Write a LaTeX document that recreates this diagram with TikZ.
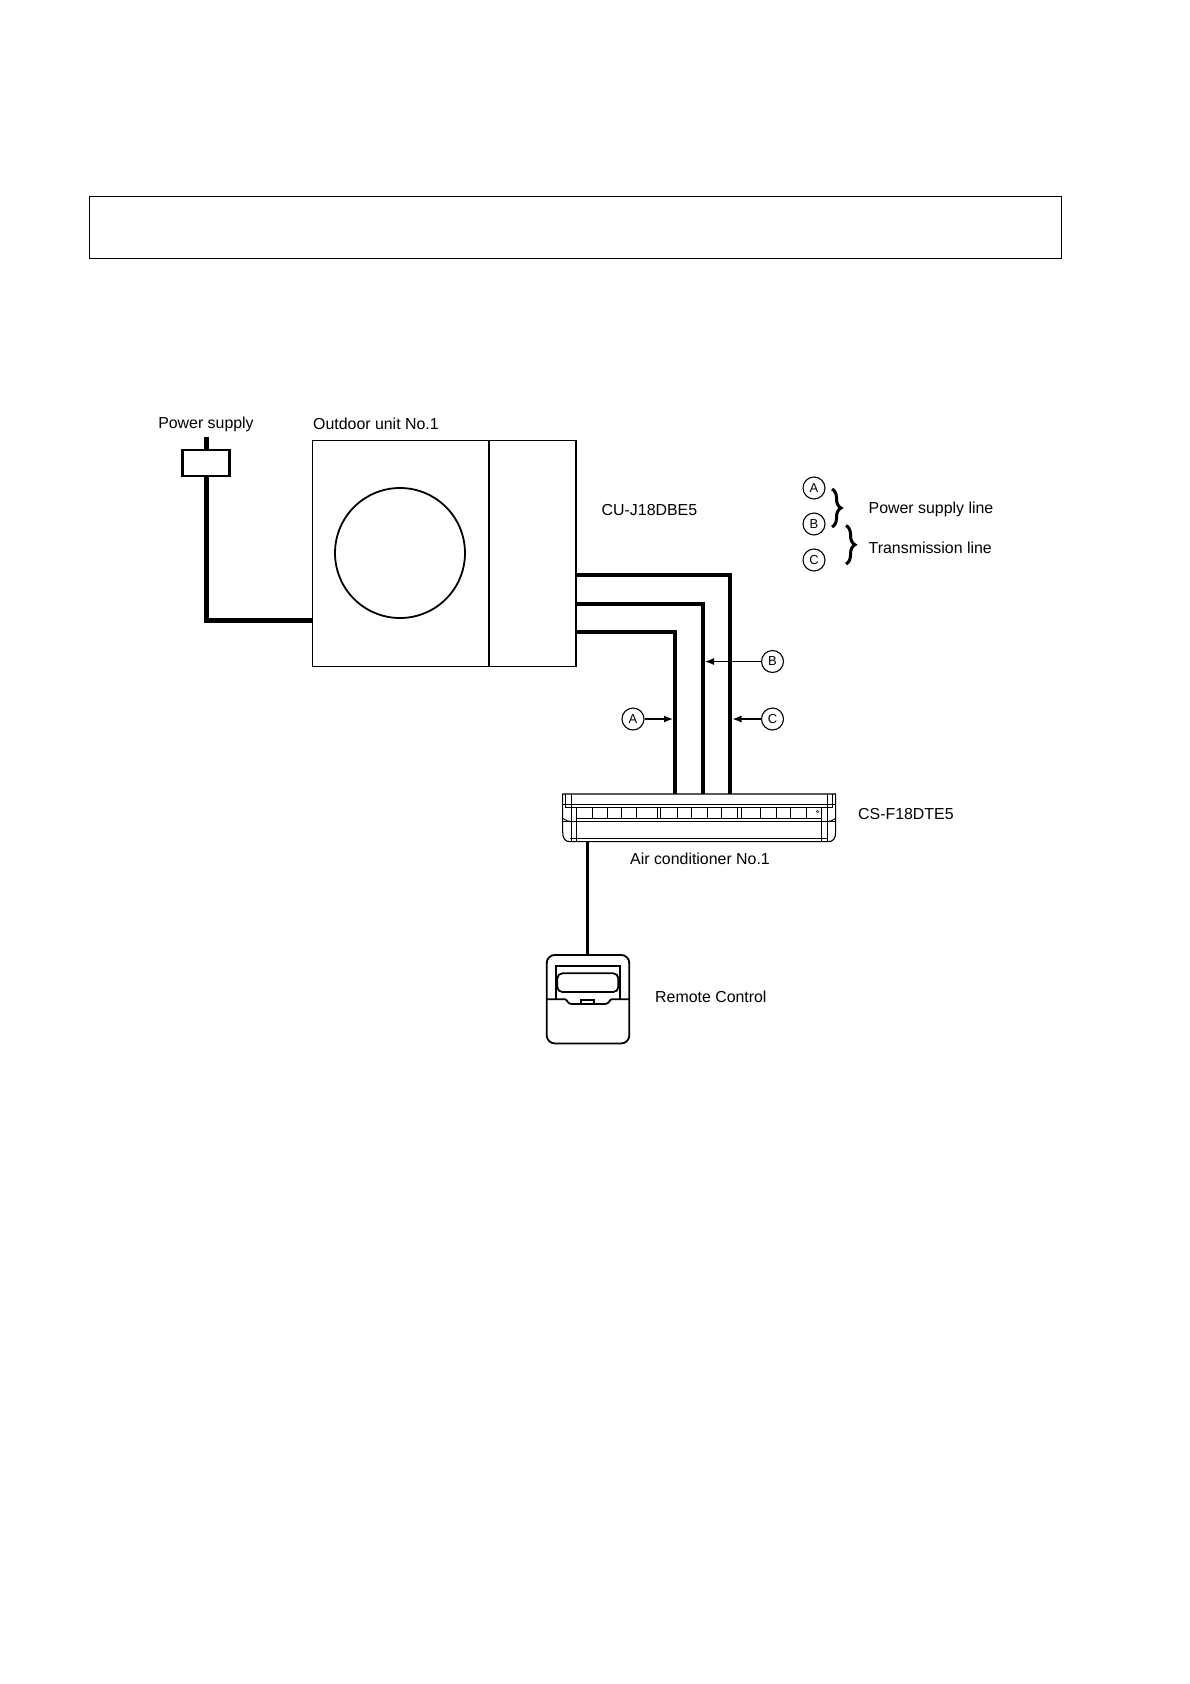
\documentclass[tikz,border=0pt]{standalone}
\usepackage{fontspec}
\setmainfont{Liberation Sans}
\usetikzlibrary{arrows.meta,decorations.pathreplacing}
\tikzset{
  label text/.style={inner sep=0pt,font=\fontsize{15.9}{18}\selectfont,anchor=west},
  unit/.style={draw,line width=1.5pt,inner sep=0pt},
  heavy/.style={line width=3.8pt,line cap=butt,line join=miter},
  tag/.style={draw,circle,line width=1.1pt,minimum size=22pt,inner sep=0pt,fill=white,font=\fontsize{13}{15}\selectfont},
  lead/.style={line width=1.2pt,-{Latex[length=9pt,width=7pt]}},
  fine/.style={line width=.9pt},
  curly/.style={line width=3pt,decorate,decoration={brace,amplitude=9pt,aspect=.5}},
}
\begin{document}
\begin{tikzpicture}[x=1pt,y=-1pt]
\useasboundingbox (0,0) rectangle (1190,1684);
\fill[white] (0,0) rectangle (1190,1684);
% top empty frame
\node[draw,line width=.8pt,minimum width=972pt,minimum height=62pt,inner sep=0pt] (frame) at (575.5,227.5) {};

% outdoor unit
\node[unit,minimum width=263.5pt,minimum height=226pt] (outdoor) at (444.25,553.5) {};
\coordinate (divT) at (489,440.5);
\coordinate (divB) at (489,666.5);
\draw[line width=1.2pt] (divT) -- (divB);
\node[draw,circle,line width=1.8pt,minimum size=130pt,inner sep=0pt] (fan) at (400,553) {};

% plug and supply
\node[draw,line width=2.8pt,minimum width=47pt,minimum height=26pt,inner sep=0pt] (plug) at (206.2,463) {};
\coordinate (plugTop) at (206.2,437);
\coordinate (supplyEnd) at (312.5,620.5);
\draw[heavy,line width=4.6pt] (plugTop) -- (plug.north);
\draw[heavy,line width=4.6pt] (plug.south) |- (supplyEnd);

% piping
\coordinate (cOut) at (576,575);
\coordinate (bOut) at (576,604);
\coordinate (aOut) at (576,632);
\coordinate (aIn) at (675.3,794);
\coordinate (bIn) at (702.7,794);
\coordinate (cIn) at (730,794);
\draw[heavy] (cOut) -| (cIn);
\draw[heavy] (bOut) -| (bIn);
\draw[heavy] (aOut) -| (aIn);

% tags on the pipes
\node[tag] (tagB) at (772.5,661.5) {B};
\node[tag] (tagA) at (633,719) {A};
\node[tag] (tagC) at (772.5,719) {C};
\coordinate (ptB) at (705,661.5);
\coordinate (ptA) at (673,719);
\coordinate (ptC) at (732.5,719);
\draw[lead] (tagB) -- (ptB);
\draw[lead] (tagA) -- (ptA);
\draw[lead] (tagC) -- (ptC);

% legend
\node[tag] (legA) at (814,488) {A};
\node[tag] (legB) at (814,524) {B};
\node[tag] (legC) at (814,560) {C};
\coordinate (b1t) at (832,489);
\coordinate (b1b) at (832,527);
\coordinate (b2t) at (846,525.5);
\coordinate (b2b) at (846,564);
\draw[curly] (b1t) -- (b1b);
\draw[curly] (b2t) -- (b2b);
\node[label text] (t1) at (868.5,509.5) {Power supply line};
\node[label text] (t2) at (868.5,548) {Transmission line};

% labels
\node[label text,anchor=center] (t3) at (206,424) {Power supply};
\node[label text] (t4) at (313,423.5) {Outdoor unit No.1};
\node[label text] (t5) at (601.5,510) {CU-J18DBE5};
\node[label text] (t6) at (858,814.5) {CS-F18DTE5};
\node[label text] (t7) at (630,859) {Air conditioner No.1};
\node[label text] (t8) at (655,997) {Remote Control};

% air conditioner (indoor unit)
\begin{scope}[shift={(540,770)},x=.33333pt,y=-.33333pt]
\draw[fine,line width=1.1pt] (68,72) -- (887,72) -- (887,185) .. controls (887,205) and (880,215) .. (865,215) -- (90,215) .. controls (75,215) and (68,205) .. (68,185) -- cycle;
\draw[fine] (68,103) -- (887,103);
\draw[fine] (77,113) -- (878,113);
\draw[fine] (108,145) -- (845,145);
\draw[fine,line width=1.1pt] (68,155) -- (887,155);
\draw[fine] (90,205) -- (865,205);
\draw[fine] (77,72) -- (77,113);
\draw[fine] (93,72) -- (93,215);
\draw[fine] (108,113) -- (108,215);
\draw[fine] (878,72) -- (878,113);
\draw[fine] (862,72) -- (862,215);
\draw[fine] (845,113) -- (845,215);
\draw[fine] (68,145) .. controls (75,150) and (85,155) .. (93,155);
\draw[fine] (887,145) .. controls (880,150) and (870,155) .. (862,155);
\foreach \tx in {157,203,245,290,352,360,412,455,502,545,593,603,662,710,752,798}
  \draw[fine] (\tx,113) -- (\tx,145);
\draw[line width=.4pt] (833,125) circle[radius=4];
\end{scope}
\coordinate (acB) at (587.3,842);

% remote control
\node[draw,line width=1.8pt,rounded corners=8pt,minimum width=82.5pt,minimum height=88.5pt,inner sep=0pt] (remote) at (588,999.2) {};
\draw[line width=2.4pt] (acB) -- (remote.north -| acB);
\begin{scope}[shift={(530,940)},x=.33333pt,y=-.33333pt]
\draw[line width=1.8pt] (50,178) -- (105,178) .. controls (112,178) and (112,192) .. (125,192) -- (225,192) .. controls (238,192) and (238,178) .. (245,178) -- (297,178);
\draw[line width=1.8pt] (78,178) -- (78,78) -- (270,78) -- (270,178);
\draw[line width=1.8pt,rounded corners=5pt] (82,100) rectangle (265,156);
\draw[line width=1.3pt] (153,192) -- (153,180) -- (192,180) -- (192,192);
\end{scope}
\end{tikzpicture}
\end{document}
